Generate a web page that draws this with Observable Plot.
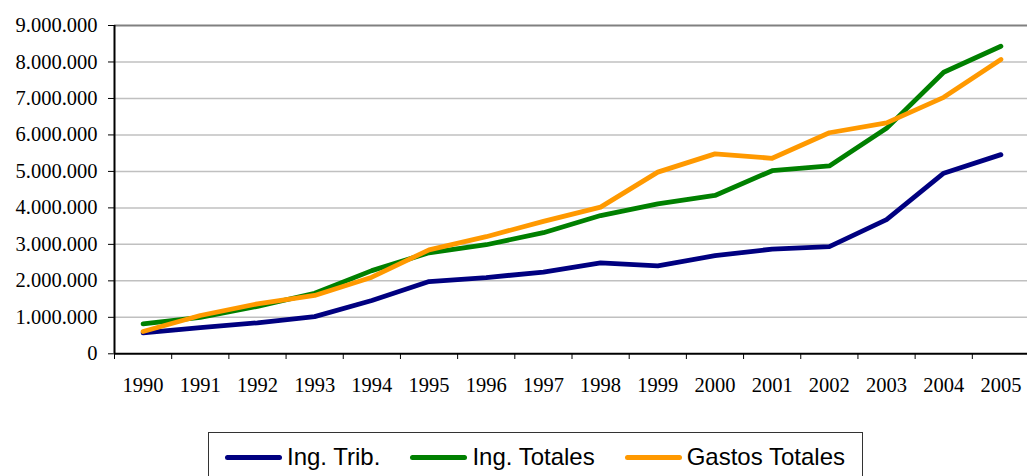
<!DOCTYPE html>
<html>
<head>
<meta charset="utf-8">
<script src="https://cdn.jsdelivr.net/npm/d3@7"></script>
<script src="https://cdn.jsdelivr.net/npm/@observablehq/plot@0.6"></script>
<style>
  body { margin: 0; background: #fff; }
  #wrap { position: relative; width: 1027px; height: 476px; overflow: hidden; }
  #chart svg { display: block; }
  #chart svg text { font-family: "Liberation Serif", "Times New Roman", serif; font-size: 20.5px; }
  #legend {
    position: absolute; left: 208px; top: 432px; width: 655px; height: 50px;
    border: 1px solid #333; box-sizing: border-box;
    font-family: "Liberation Sans", Arial, sans-serif; font-size: 24px; color: #000;
    display: flex; align-items: center; padding-left: 16px;
  }
  .item { display: flex; align-items: center; margin-right: 30px; white-space: nowrap; }
  .swatch { width: 57px; height: 5px; border-radius: 3px; margin-right: 5px; }
</style>
</head>
<body>
<div id="wrap">
  <div id="chart"></div>
  <div id="legend"></div>
</div>
<script>
const years = [1990, 1991, 1992, 1993, 1994, 1995, 1996, 1997, 1998, 1999, 2000, 2001, 2002, 2003, 2004, 2005];
const ingTrib = [575000, 720000, 850000, 1020000, 1460000, 1980000, 2090000, 2240000, 2490000, 2410000, 2690000, 2870000, 2940000, 3680000, 4950000, 5460000];
const ingTotales = [820000, 1000000, 1300000, 1660000, 2280000, 2770000, 2990000, 3320000, 3790000, 4110000, 4340000, 5020000, 5150000, 6180000, 7720000, 8430000];
const gastosTotales = [610000, 1050000, 1370000, 1600000, 2100000, 2850000, 3210000, 3630000, 4020000, 4980000, 5480000, 5360000, 6060000, 6330000, 7030000, 8070000];
const seriesNames = ["Ing. Trib.", "Ing. Totales", "Gastos Totales"];
const seriesColors = ["#000080", "#008000", "#ff9900"];
const yTicks = [0, 1000000, 2000000, 3000000, 4000000, 5000000, 6000000, 7000000, 8000000, 9000000];

const seriesValues = [ingTrib, ingTotales, gastosTotales];
const data = seriesNames.flatMap((s, k) => years.map((yr, i) => ({year: yr, serie: s, v: seriesValues[k][i]})));
const bounds = years.map(y => y - 0.5).concat([years[years.length - 1] + 0.5]);

const fmt = d3.formatLocale({decimal: ",", thousands: ".", grouping: [3], currency: ["", ""]}).format(",d");
const serif = "'Liberation Serif', 'Times New Roman', serif";

const chart = Plot.plot({
  width: 1027,
  height: 410,
  marginLeft: 114,
  marginTop: 25,
  marginRight: 0,
  marginBottom: 57,
  style: {fontFamily: serif, fontSize: "20.5px", color: "#000", background: "#fff"},
  x: {type: "linear", domain: [bounds[0], bounds[bounds.length - 1]], range: [114, 1029]},
  y: {domain: [0, 9000000], range: [353.3, 25]},
  color: {domain: seriesNames, range: seriesColors},
  marks: [
    Plot.ruleY(yTicks.filter(d => d > 0 && d < 9000000), {stroke: "#c0c0c0", strokeWidth: 1.5}),
    Plot.ruleY([9000000], {stroke: "#808080", strokeWidth: 2}),
    Plot.axisY({ticks: yTicks, tickFormat: fmt, tickSize: 6, tickPadding: 11, label: null, stroke: "#000", fontFamily: serif, fontSize: 20.5}),
    Plot.axisX({ticks: bounds, tickFormat: () => "", tickSize: 6, label: null, stroke: "#000"}),
    Plot.axisX({ticks: years, tickFormat: d => String(d), tickSize: 0, tickPadding: 24, label: null, fontFamily: serif, fontSize: 20.5}),
    Plot.ruleX([bounds[0]], {stroke: "#000", strokeWidth: 2}),
    Plot.ruleY([0], {stroke: "#000", strokeWidth: 2}),
    Plot.line(data, {x: "year", y: "v", z: "serie", stroke: "serie", strokeWidth: 4.8, strokeLinecap: "round", strokeLinejoin: "round"})
  ]
});
document.getElementById("chart").appendChild(chart);

const legend = document.getElementById("legend");
seriesNames.forEach((s, i) => {
  const item = document.createElement("div");
  item.className = "item";
  const sw = document.createElement("div");
  sw.className = "swatch";
  sw.style.background = seriesColors[i];
  const t = document.createElement("span");
  t.textContent = s;
  item.appendChild(sw);
  item.appendChild(t);
  legend.appendChild(item);
});
</script>
</body>
</html>
